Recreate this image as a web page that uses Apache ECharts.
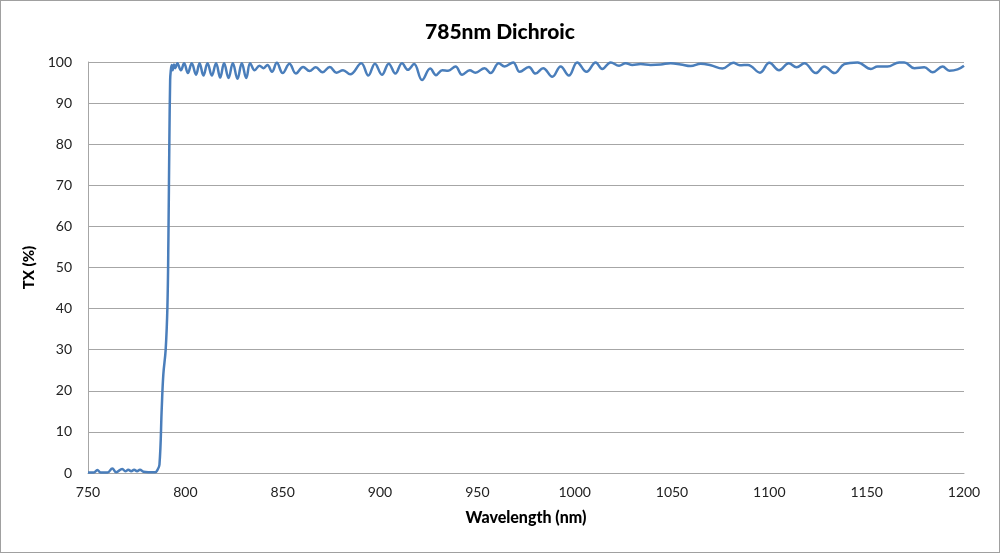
<!DOCTYPE html>
<html>
<head>
<meta charset="utf-8">
<script src="https://cdn.jsdelivr.net/npm/echarts@6/dist/echarts.min.js"></script>
<style>
html,body{margin:0;padding:0;background:#fff;}
#c{width:998px;height:551px;border:1px solid #a0a0a0;}
</style>
</head>
<body>
<div id="c"></div>
<script>
var wavelength = [750,753,754.8,756.5,760,762.5,764.5,767.6,769.2,770.7,772.2,773.7,775.2,776.7,778.5,781,784.5,785.5,786.7,787.9,788.7,789.9,790.8,791.3,791.8,792.2,792.5,793.0,793.5,794.2,794.9,795.9,797.7,799.4,801.3,803.3,805.5,807.3,809.3,811.4,813.6,815.8,817.9,819.9,822.2,824.4,826.8,829.0,831.3,833.3,835.6,838.1,840.2,842.2,844.5,847.0,850.0,853.5,856.8,860.5,863.8,867.0,870.5,874.2,877.6,881.0,884.7,890.4,894.0,897.4,901.0,904.5,907.9,911.3,914.3,917.5,921.6,925.8,928.8,932.0,935.0,938.8,942.2,946.1,949.0,953.7,956.8,961.0,964.0,968.4,971.8,976.5,979.9,983.8,988.5,992.8,997.0,1001.3,1006.1,1010.8,1014.2,1018.5,1022.8,1026.2,1029.6,1033.9,1039.0,1044.2,1049.3,1054.5,1059.6,1064.8,1069.9,1075.9,1081.5,1084.8,1089.0,1095.2,1100.0,1105.0,1110.0,1114.0,1118.0,1123.9,1128.2,1133.5,1138.5,1145.3,1152.2,1155.6,1160.7,1166.7,1169.3,1174.5,1179.6,1183.9,1189.0,1192.5,1196.7,1200.0];
var tx = [0.1,0.1,0.7,0.1,0.1,1.1,0.2,1.0,0.4,0.8,0.4,0.8,0.4,0.8,0.3,0.2,0.2,0.6,2,16,24,30,40.5,56.7,81,95.6,97.8,99.3,98.0,99.4,98.5,99.7,98.0,99.7,97.3,99.7,96.9,99.7,96.7,99.7,96.7,99.7,96.2,99.7,96.1,99.7,95.9,99.7,96.1,99.7,98.0,99.1,98.5,99.3,97.6,99.8,97.3,99.6,97.2,98.8,97.8,98.7,97.5,98.8,97.4,98.0,97.0,99.7,96.7,99.6,96.9,99.6,97.2,99.7,98.1,99.5,95.6,98.4,96.8,98.0,97.9,98.9,96.9,98.0,97.4,98.5,97.3,99.7,98.9,99.9,97.6,98.8,97.2,98.5,96.4,98.9,96.7,99.9,97.6,99.9,98.3,99.9,99.1,99.7,99.3,99.5,99.3,99.4,99.7,99.4,99.0,99.6,99.2,98.4,99.8,99.2,99.3,97.4,99.8,98.0,99.7,98.7,99.7,97.3,98.9,97.3,99.5,99.9,98.3,98.9,98.9,99.9,99.9,98.5,98.7,97.5,98.9,97.9,98.2,99.1];
var xTicks = {min:750, max:1200, step:50};
var yTicks = {min:0, max:100, step:10};
var titleText = '785nm Dichroic';
var xName = 'Wavelength (nm)';
var yName = 'TX (%)';

var pts = wavelength.map(function(w,i){return [w, tx[i]];});
var chart = echarts.init(document.getElementById('c'));
var font = 'Lato, "Open Sans", sans-serif';
chart.setOption({
  animation:false,
  title:{text:titleText,left:'center',top:16,textStyle:{fontFamily:font,fontSize:21,fontWeight:900,color:'#000'}},
  grid:{left:87,right:35,top:61,bottom:79},
  xAxis:{type:'value',min:xTicks.min,max:xTicks.max,interval:xTicks.step,
    name:xName,nameLocation:'middle',nameGap:37,
    nameTextStyle:{fontFamily:font,fontSize:16,fontWeight:900,color:'#000'},
    axisLine:{show:true,lineStyle:{color:'#a6a6a6'}},axisTick:{show:false},
    axisLabel:{fontFamily:font,fontSize:14,color:'#222',margin:12,formatter:function(v){return String(v);}},
    splitLine:{show:false}},
  yAxis:{type:'value',min:yTicks.min,max:yTicks.max,interval:yTicks.step,
    name:yName,nameLocation:'middle',nameGap:48,
    nameTextStyle:{fontFamily:font,fontSize:15,fontWeight:900,color:'#000'},
    axisLine:{show:true,lineStyle:{color:'#a6a6a6'}},axisTick:{show:false},
    axisLabel:{fontFamily:font,fontSize:14,color:'#222',margin:16,formatter:function(v){return String(v);}},
    splitLine:{show:true,lineStyle:{color:'#a6a6a6',width:1}}},
  series:[{type:'line',data:pts,showSymbol:false,smooth:0.4,
    lineStyle:{color:'#4a7ebb',width:2.5},itemStyle:{color:'#4a7ebb'}}]
});
</script>
</body>
</html>
